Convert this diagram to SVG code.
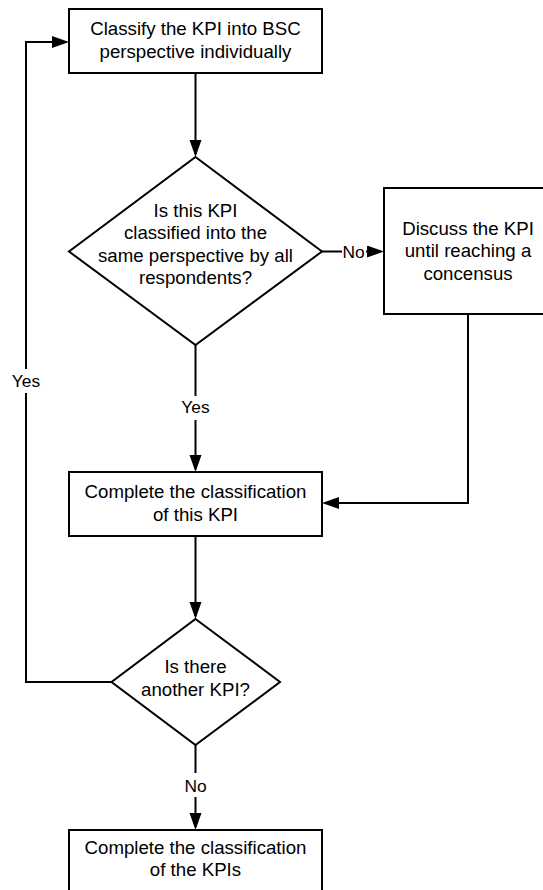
<svg xmlns="http://www.w3.org/2000/svg" width="543" height="890" viewBox="0 0 543 890">
<style>
.shape{fill:#fff;stroke:#000;stroke-width:2}
.t{font-family:"Liberation Sans",Arial,sans-serif;font-size:18.67px;fill:#000;text-anchor:middle}
.lbl{font-family:"Liberation Sans",Arial,sans-serif;font-size:17.33px;fill:#000;text-anchor:middle}
.c{fill:none;stroke:#000;stroke-width:2}
.bg{fill:#fff}
</style>
<defs>
<marker id="ah" markerUnits="userSpaceOnUse" markerWidth="18" markerHeight="13" refX="14" refY="6" orient="auto">
<path d="M0,0 L17,6 L0,12 Z" fill="#000"/>
</marker>
</defs>
<rect width="543" height="890" fill="#fff"/>
<g id="connectors">
<path class="c" d="M195.5,73 V154" marker-end="url(#ah)"/>
<path class="c" d="M322,251.5 H381" marker-end="url(#ah)"/>
<path class="c" d="M195.5,345 V469" marker-end="url(#ah)"/>
<path class="c" d="M468,314 V503 H325" marker-end="url(#ah)"/>
<path class="c" d="M195.5,536 V616" marker-end="url(#ah)"/>
<path class="c" d="M111.5,682 H26 V42 H66" marker-end="url(#ah)"/>
<path class="c" d="M195.5,745 V827" marker-end="url(#ah)"/>
<g id="label-no1"><rect class="bg" x="342" y="240" width="24" height="22"/><text class="lbl" x="353.5" y="257.5">No</text></g>
<g id="label-yes1"><rect class="bg" x="180" y="396" width="31" height="24"/><text class="lbl" x="195.5" y="413">Yes</text></g>
<g id="label-yes2"><rect class="bg" x="10" y="369" width="32" height="24"/><text class="lbl" x="26" y="387">Yes</text></g>
<g id="label-no2"><rect class="bg" x="183" y="773" width="25" height="24"/><text class="lbl" x="195.5" y="791.5">No</text></g>
</g>
<g id="box1">
<rect class="shape" x="69" y="9" width="253" height="64"/>
<text class="t" x="195.5" y="35">Classify the KPI into BSC</text>
<text class="t" x="195.5" y="58">perspective individually</text>
</g>
<g id="decision1">
<polygon class="shape" points="195.5,157 322,251.5 195.5,345 69,251.5"/>
<text class="t" x="195.5" y="216.5">Is this KPI</text>
<text class="t" x="195.5" y="239">classified into the</text>
<text class="t" x="195.5" y="261.5">same perspective by all</text>
<text class="t" x="195.5" y="284">respondents?</text>
</g>
<g id="box2">
<rect class="shape" x="384" y="188" width="168" height="126"/>
<text class="t" x="468" y="234.5">Discuss the KPI</text>
<text class="t" x="468" y="257">until reaching a</text>
<text class="t" x="468" y="279.5">concensus</text>
</g>
<g id="box3">
<rect class="shape" x="69" y="472" width="253" height="64"/>
<text class="t" x="195.5" y="497.5">Complete the classification</text>
<text class="t" x="195.5" y="520.5">of this KPI</text>
</g>
<g id="decision2">
<polygon class="shape" points="195.5,619 280,682 195.5,745 111.5,682"/>
<text class="t" x="195.5" y="673">Is there</text>
<text class="t" x="195.5" y="695.5">another KPI?</text>
</g>
<g id="box4">
<rect class="shape" x="69" y="830" width="253" height="64"/>
<text class="t" x="195.5" y="853.5">Complete the classification</text>
<text class="t" x="195.5" y="876">of the KPIs</text>
</g>
</svg>
